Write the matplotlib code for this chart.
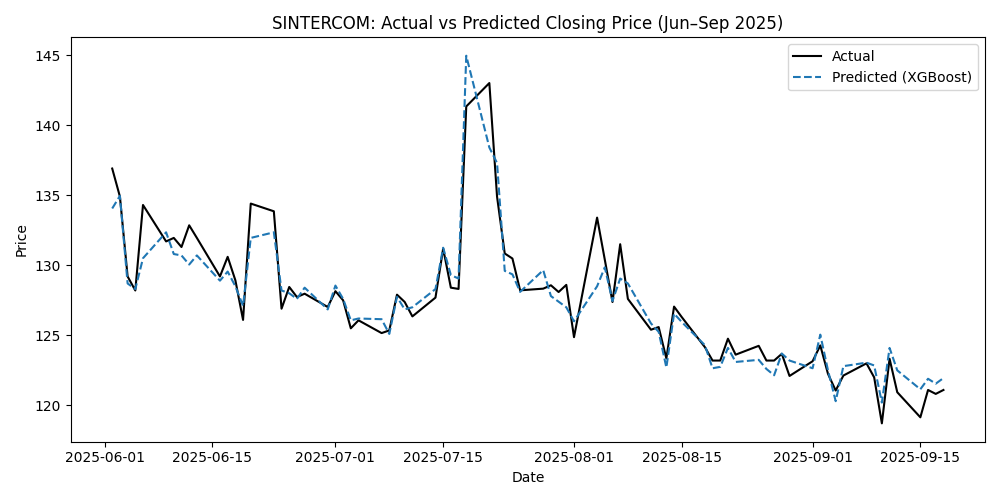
import matplotlib
matplotlib.use("Agg")
import matplotlib.pyplot as plt
import pandas as pd

dates = pd.bdate_range("2025-06-02", "2025-09-18")

actual = [
    # June
    136.9, 134.9, 129.2, 128.2, 134.3, 131.7, 131.95, 131.3, 132.85, 131.95,
    129.2, 130.6, 128.93, 126.1, 134.4, 133.85, 126.9, 128.45, 127.73, 127.97,
    127.02,
    # July
    128.15, 127.5, 125.5, 126.07, 125.16, 125.35, 127.9, 127.38, 126.35, 127.69,
    131.19, 128.4, 128.31, 141.33, 143.0, 134.9, 130.84, 130.48, 128.21, 128.33,
    128.57, 128.09, 128.6,
    # August
    124.87, 133.4, 130.4, 127.38, 131.5, 127.6, 125.4, 125.59, 123.35, 127.05,
    126.3, 124.16, 123.2, 123.2, 124.76, 123.62, 124.25, 123.2, 123.2, 123.68,
    122.1,
    # September
    123.15, 124.28, 122.25, 121.06, 122.13, 123.0, 122.0, 118.72, 123.33, 120.94,
    119.15, 121.1, 120.82, 121.1,
]

predicted = [
    # June
    134.05, 134.95, 128.7, 128.3, 130.5, 132.35, 130.8, 130.7, 130.05, 130.7,
    128.9, 129.55, 128.5, 127.1, 131.95, 132.35, 128.2, 128.0, 127.6, 128.4,
    126.85,
    # July
    128.55, 127.6, 126.07, 126.2, 126.15, 125.1, 127.75, 126.85, 127.0, 128.3,
    131.25, 129.3, 129.05, 144.95, 138.4, 137.3, 129.6, 129.35, 128.1, 129.65,
    127.8, 127.4, 127.0,
    # August
    126.0, 128.5, 129.85, 127.45, 129.05, 128.7, 125.85, 125.25, 122.7, 126.55,
    125.95, 124.3, 122.65, 122.75, 124.1, 123.1, 123.25, 122.6, 122.15, 123.7,
    123.2,
    # September
    122.65, 125.05, 122.5, 120.3, 122.8, 123.05, 122.85, 120.2, 124.1, 122.5,
    121.15, 121.9, 121.55, 121.95,
]

fig, ax = plt.subplots(figsize=(10, 5), dpi=100)
ax.plot(dates, actual, color="black", linewidth=1.5, label="Actual")
ax.plot(dates, predicted, color="#1f77b4", linestyle="--", linewidth=1.5,
        label="Predicted (XGBoost)")
ax.set_title("SINTERCOM: Actual vs Predicted Closing Price (Jun\u2013Sep 2025)")
ax.set_xlabel("Date")
ax.set_ylabel("Price")
ax.legend(loc="upper right")
fig.tight_layout()
fig.savefig("out.png")
